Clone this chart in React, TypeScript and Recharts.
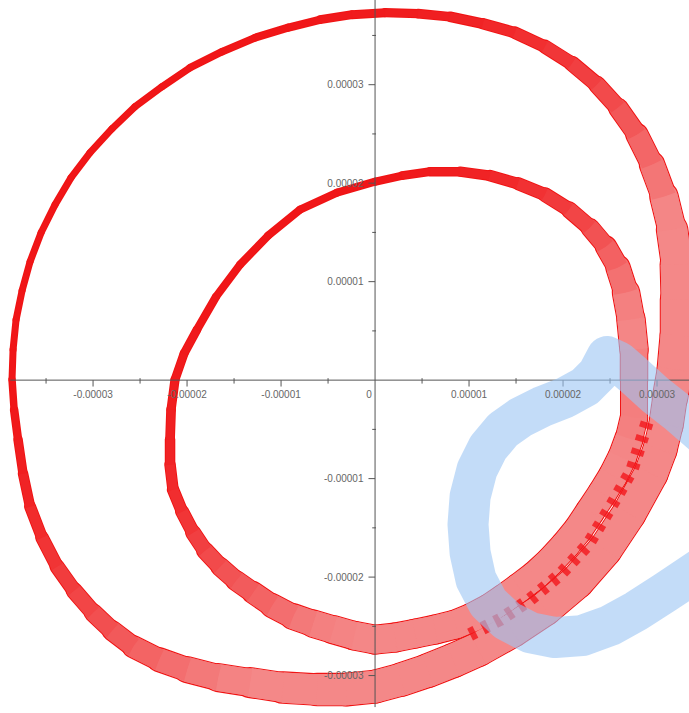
import React from 'react';
import { LineChart, Line, XAxis, YAxis, ReferenceLine } from 'recharts';

// all coordinates in units of 1e-5 (the tick labels carry the real scale)

// outer orbit centreline, clockwise from the left-most point
const outerX = [
  -3.862, -3.851, -3.819, -3.755, -3.67, -3.553, -3.404, -3.234, -3.032, -2.798, -2.553, -2.266,
  -1.968, -1.628, -1.277, -0.926, -0.585, -0.245, 0.106, 0.457, 0.798, 1.149, 1.489, 1.809,
  2.096, 2.362, 2.585, 2.787, 2.947, 3.074, 3.16, 3.213, 3.223, 3.223, 3.191, 3.138,
  3.096, 3.032, 2.936, 2.702, 2.447, 2.149, 1.809, 1.457, 1.096, 0.83, 0.564, 0.277,
  0, -0.309, -0.617, -0.979, -1.33, -1.67, -2.0, -2.298, -2.574, -2.798, -3.0, -3.202,
  -3.383, -3.543, -3.67, -3.745, -3.798, -3.84,
];
const outerY = [
  0.005, 0.31, 0.614, 0.909, 1.203, 1.497, 1.782, 2.056, 2.31, 2.553, 2.777, 2.98,
  3.173, 3.335, 3.477, 3.579, 3.66, 3.711, 3.731, 3.721, 3.69, 3.619, 3.528, 3.386,
  3.213, 3.0, 2.766, 2.492, 2.188, 1.863, 1.528, 1.173, 0.817, 0.452, 0.107, -0.178,
  -0.452, -0.706, -0.949, -1.355, -1.721, -2.046, -2.32, -2.543, -2.736, -2.848, -2.949, -3.041,
  -3.112, -3.142, -3.142, -3.122, -3.071, -3.02, -2.939, -2.838, -2.706, -2.543, -2.36, -2.137,
  -1.893, -1.599, -1.284, -0.949, -0.604, -0.299,
];
// width of the bundle of trajectories along the outer orbit
const outerSpread = [
  0.073, 0.073, 0.073, 0.073, 0.073, 0.073, 0.073, 0.073, 0.073, 0.073, 0.073, 0.073,
  0.078, 0.078, 0.083, 0.083, 0.089, 0.094, 0.094, 0.099, 0.104, 0.115, 0.125, 0.141,
  0.156, 0.177, 0.198, 0.229, 0.26, 0.292, 0.323, 0.354, 0.375, 0.385, 0.385, 0.375,
  0.365, 0.365, 0.365, 0.365, 0.365, 0.365, 0.365, 0.365, 0.365, 0.365, 0.365, 0.354,
  0.354, 0.354, 0.344, 0.333, 0.313, 0.292, 0.271, 0.25, 0.229, 0.208, 0.188, 0.167,
  0.151, 0.135, 0.115, 0.104, 0.094, 0.083,
];

// inner orbit centreline, clockwise from the top
const innerX = [
  0, 0.287, 0.585, 0.904, 1.223, 1.521, 1.809, 2.064, 2.287, 2.457, 2.585, 2.67,
  2.723, 2.755, 2.755, 2.755, 2.702, 2.628, 2.532, 2.415, 2.287, 2.16, 2.021, 1.862,
  1.702, 1.532, 1.372, 1.213, 1.032, 0.851, 0.638, 0.426, 0.213, 0, -0.223, -0.447,
  -0.66, -0.872, -1.096, -1.298, -1.479, -1.649, -1.809, -1.936, -2.053, -2.149, -2.181, -2.181,
  -2.17, -2.128, -2.032, -1.894, -1.691, -1.436, -1.138, -0.798, -0.404,
];
const innerY = [
  2.015, 2.076, 2.117, 2.117, 2.076, 1.995, 1.883, 1.731, 1.548, 1.355, 1.142, 0.888,
  0.614, 0.31, 0.005, -0.381, -0.594, -0.787, -0.97, -1.152, -1.335, -1.518, -1.68, -1.843,
  -1.985, -2.107, -2.218, -2.32, -2.411, -2.482, -2.533, -2.574, -2.614, -2.635, -2.594, -2.533,
  -2.472, -2.401, -2.289, -2.157, -2.036, -1.893, -1.731, -1.548, -1.335, -1.112, -0.858, -0.604,
  -0.299, 0.005, 0.269, 0.513, 0.848, 1.173, 1.467, 1.731, 1.904,
];
const innerSpread = [
  0.083, 0.089, 0.094, 0.104, 0.115, 0.13, 0.146, 0.167, 0.188, 0.219, 0.25, 0.281,
  0.313, 0.302, 0.292, 0.292, 0.302, 0.313, 0.313, 0.313, 0.313, 0.313, 0.313, 0.313,
  0.313, 0.313, 0.313, 0.313, 0.313, 0.313, 0.313, 0.313, 0.313, 0.313, 0.307, 0.302,
  0.292, 0.271, 0.25, 0.229, 0.214, 0.198, 0.177, 0.156, 0.135, 0.125, 0.115, 0.104,
  0.099, 0.094, 0.094, 0.089, 0.083, 0.083, 0.083, 0.083, 0.083,
];

// where the two bundles lie side by side (the darker dashed seam)
const overlapX = [2.894, 2.734, 2.521, 2.266, 1.968, 1.649, 1.33, 1.011];
const overlapY = [-0.431, -0.909, -1.264, -1.67, -1.975, -2.228, -2.431, -2.584];

// the light blue mark laid over the plot
const markX = [
  3.479, 3.223, 2.979, 2.745, 2.585, 2.468, 2.372, 2.234, 2.021, 1.777, 1.543, 1.362, 1.202, 1.085,
  1.011, 0.989, 1.011, 1.074, 1.202, 1.404, 1.649, 1.915, 2.202, 2.5, 2.787, 3.085, 3.479,
];
const markY = [
  -0.543, -0.33, -0.147, 0.056, 0.188, 0.239, 0.066, -0.066, -0.178, -0.269, -0.381, -0.503, -0.685, -0.909,
  -1.183, -1.467, -1.751, -2.025, -2.259, -2.442, -2.563, -2.614, -2.594, -2.492, -2.34, -2.157, -1.904,
];

const xTicks = [-3, -2, -1, 1, 2, 3];
const xTickLabels = ['-0.00003', '-0.00002', '-0.00001', '0.00001', '0.00002', '0.00003'];
const xMinorTicks = [-3.5, -2.5, -1.5, -0.5, 0.5, 1.5, 2.5];
const yTicks = [3, 2, 1, -1, -2, -3];
const yTickLabels = ['0.00003', '0.00002', '0.00001', '-0.00001', '-0.00002', '-0.00003'];
const yMinorTicks = [3.5, 2.5, 1.5, 0.5, -0.5, -1.5, -2.5];

const W = 689;
const H = 713;
const PX_PER_UNIT = 96;
const FONT = "'Liberation Sans', Arial, sans-serif";
const AXIS = '#555';

const toSegments = (xs: number[], ys: number[], spread: number[]) =>
  xs.map((x, i) => {
    const j = (i + 1) % xs.length;
    return {
      data: [{ x, y: ys[i] }, { x: xs[j], y: ys[j] }],
      width: ((spread[i] + spread[j]) / 2) * PX_PER_UNIT,
    };
  });

// dense thin bundle reads as solid red, the spread-out part as pink with red lines
const bandColor = (w: number) => {
  const t = Math.min(1, Math.max(0, (w - 8) / 22));
  const r = Math.round(240 + 4 * t);
  const g = Math.round(22 + 114 * t);
  const b = Math.round(24 + 112 * t);
  return `rgb(${r},${g},${b})`;
};
const innerWidth = (w: number) => Math.max(w - 2.2, w * 0.6);

const outerSegs = toSegments(outerX, outerY, outerSpread);
const innerSegs = toSegments(innerX, innerY, innerSpread);
const overlapData = overlapX.map((x, i) => ({ x, y: overlapY[i] }));
const markData = markX.map((x, i) => ({ x, y: markY[i] }));

const lineProps = {
  dataKey: 'y',
  type: 'linear' as const,
  dot: false,
  activeDot: false,
  isAnimationActive: false,
  strokeLinejoin: 'round' as const,
};

const labelStyle = { fill: '#666', fontSize: 10, fontFamily: FONT };

const css = `
.recharts-line-curve { stroke-linejoin: round; }
.mark { opacity: 0.6; }
`;

export default function App() {
  const segs = [...outerSegs, ...innerSegs];
  return (
    <div style={{ position: 'absolute', left: 0, top: 0, width: W, height: H, background: '#fff' }}>
      <style>{css}</style>
      <LineChart width={W} height={H} margin={{ top: 0, right: 0, bottom: 0, left: 0 }}>
        <XAxis type="number" dataKey="x" domain={[-3.99, 3.34]} allowDataOverflow hide />
        <YAxis type="number" dataKey="y" domain={[-3.38, 3.86]} allowDataOverflow hide />

        {/* band edges, then the lighter inside (round pass fills the joints, flat pass squares them) */}
        {segs.map((s, i) => (
          <Line key={'e' + i} {...lineProps} data={s.data} stroke="#f01414" strokeWidth={s.width} strokeLinecap="round" />
        ))}
        {segs.map((s, i) => (
          <Line
            key={'r' + i}
            {...lineProps}
            data={s.data}
            stroke={bandColor(s.width)}
            strokeWidth={innerWidth(s.width)}
            strokeLinecap="round"
          />
        ))}
        {segs.map((s, i) => (
          <Line
            key={'f' + i}
            {...lineProps}
            data={s.data}
            stroke={bandColor(s.width)}
            strokeWidth={innerWidth(s.width)}
            strokeLinecap="butt"
          />
        ))}
        <Line
          {...lineProps}
          data={overlapData}
          stroke="#f2161c"
          strokeOpacity={0.8}
          strokeWidth={13}
          strokeDasharray="6 8"
          strokeLinecap="butt"
        />

        {/* axes through the origin */}
        <ReferenceLine ifOverflow="visible" segment={[{ x: -3.88, y: 0 }, { x: 3.34, y: 0 }]} stroke={AXIS} />
        <ReferenceLine ifOverflow="visible" segment={[{ x: 0, y: 3.86 }, { x: 0, y: -3.32 }]} stroke={AXIS} />
        {xTicks.map((t, i) => (
          <ReferenceLine
            key={'xt' + i}
            ifOverflow="visible"
            segment={[{ x: t, y: 0 }, { x: t, y: -0.065 }]}
            stroke={AXIS}
            label={{ value: xTickLabels[i], position: 'bottom', offset: 4, ...labelStyle }}
          />
        ))}
        {xMinorTicks.map((t, i) => (
          <ReferenceLine key={'xm' + i} ifOverflow="visible" segment={[{ x: t, y: 0.02 }, { x: t, y: -0.035 }]} stroke={AXIS} />
        ))}
        {yTicks.map((t, i) => (
          <ReferenceLine
            key={'yt' + i}
            ifOverflow="visible"
            segment={[{ x: -0.07, y: t }, { x: 0, y: t }]}
            stroke={AXIS}
            label={{ value: yTickLabels[i], position: 'left', offset: 5, ...labelStyle }}
          />
        ))}
        {yMinorTicks.map((t, i) => (
          <ReferenceLine key={'ym' + i} ifOverflow="visible" segment={[{ x: -0.03, y: t }, { x: 0.01, y: t }]} stroke={AXIS} />
        ))}
        <ReferenceLine
          ifOverflow="visible"
          segment={[{ x: -0.065, y: 0 }, { x: -0.065, y: -0.065 }]}
          stroke="none"
          label={{ value: '0', position: 'bottom', offset: 4, ...labelStyle }}
        />

        <Line {...lineProps} className="mark" data={markData} stroke="#9cc6f5" strokeWidth={41} strokeLinecap="round" />
      </LineChart>
    </div>
  );
}
